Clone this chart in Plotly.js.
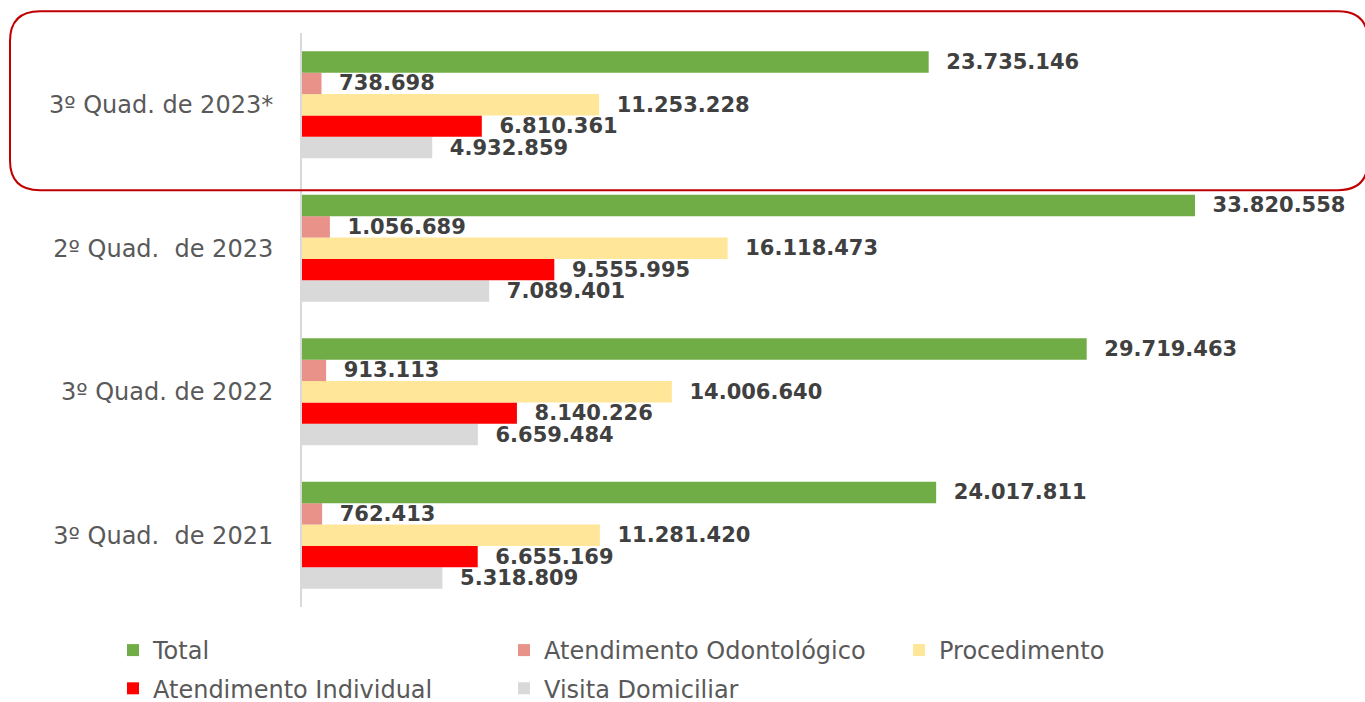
<!DOCTYPE html>
<html>
<head>
<meta charset="utf-8">
<script src="https://cdn.plot.ly/plotly-3.0.1.min.js"></script>
<style>html,body{margin:0;padding:0;background:#fff;}#chart{width:1365px;height:702px;}</style>
</head>
<body>
<div id="chart"></div>
<script>
const categories = ['3º Quad. \u00a0de 2021', '3º Quad. de 2022', '2º Quad. \u00a0de 2023', '3º Quad. de 2023*'];
const total = [24017811, 29719463, 33820558, 23735146];
const odontologico = [762413, 913113, 1056689, 738698];
const procedimento = [11281420, 14006640, 16118473, 11253228];
const individual = [6655169, 8140226, 9555995, 6810361];
const visita = [5318809, 6659484, 7089401, 4932859];

const seriesNames = ['Total', 'Atendimento Odontológico', 'Procedimento', 'Atendimento Individual', 'Visita Domiciliar'];
const seriesValues = [total, odontologico, procedimento, individual, visita];
const seriesColors = ['#70AD47', '#E8928A', '#FFE699', '#FF0000', '#D9D9D9'];
const legendColumn = ['legend', 'legend2', 'legend3', 'legend', 'legend2'];

const traces = [];
for (let i = seriesNames.length - 1; i >= 0; i--) {
  traces.push({
    type: 'bar',
    orientation: 'h',
    name: seriesNames[i],
    y: categories,
    x: seriesValues[i],
    marker: {color: seriesColors[i]},
    legend: legendColumn[i],
    legendgroup: 'g' + i,
    legendrank: i + 1,
    texttemplate: '\u00a0\u00a0%{x:,.0f}',
    textposition: 'outside',
    constraintext: 'none',
    cliponaxis: false,
    textfont: {family: 'DejaVu Sans', size: 21, color: '#404040', weight: 'bold'},
    hoverinfo: 'skip'
  });
}

const L = 302, R = 1365, T = 32.7, B = 607.3;
const px = X => ((X - L) / (R - L)).toFixed(4);
const py = Y => ((B - Y) / (B - T)).toFixed(4);
const x0 = 10, x1 = 1368, y0 = 11, y1 = 190, r = 30;
const framePath =
  'M' + px(x0 + r) + ',' + py(y0) +
  ' L' + px(x1 - r) + ',' + py(y0) +
  ' Q' + px(x1) + ',' + py(y0) + ' ' + px(x1) + ',' + py(y0 + r) +
  ' L' + px(x1) + ',' + py(y1 - r) +
  ' Q' + px(x1) + ',' + py(y1) + ' ' + px(x1 - r) + ',' + py(y1) +
  ' L' + px(x0 + r) + ',' + py(y1) +
  ' Q' + px(x0) + ',' + py(y1) + ' ' + px(x0) + ',' + py(y1 - r) +
  ' L' + px(x0) + ',' + py(y0 + r) +
  ' Q' + px(x0) + ',' + py(y0) + ' ' + px(x0 + r) + ',' + py(y0) + ' Z';

function legendAt(xPix) {
  return {
    orientation: 'v',
    xref: 'container', yref: 'container',
    x: xPix / 1365, xanchor: 'left',
    y: 1 - 628 / 702, yanchor: 'top',
    itemwidth: 30,
    traceorder: 'grouped',
    tracegroupgap: 4,
    font: {family: 'DejaVu Sans', size: 24, color: '#595959'},
    bgcolor: 'rgba(0,0,0,0)'
  };
}

const layout = {
  width: 1365,
  height: 702,
  margin: {l: L, r: 0, t: T, b: 702 - B, pad: 0, autoexpand: false},
  paper_bgcolor: '#ffffff',
  plot_bgcolor: '#ffffff',
  separators: ',.',
  barmode: 'group',
  bargap: 0.255,
  bargroupgap: 0,
  showlegend: true,
  xaxis: {
    range: [0, 40.26e6],
    showgrid: false, zeroline: false, showticklabels: false, showline: false, ticks: '', fixedrange: true
  },
  yaxis: {
    type: 'category',
    categoryorder: 'array',
    categoryarray: categories,
    showline: true, linecolor: '#D9D9D9', linewidth: 2,
    showgrid: false, zeroline: false, ticks: '',
    ticklabelstandoff: 22,
    tickfont: {family: 'DejaVu Sans', size: 24, color: '#595959'},
    fixedrange: true
  },
  legend: legendAt(113),
  legend2: legendAt(504),
  legend3: legendAt(899),
  shapes: [{
    type: 'path', xref: 'paper', yref: 'paper',
    path: framePath,
    line: {color: '#C00000', width: 2},
    fillcolor: 'rgba(0,0,0,0)',
    layer: 'above'
  }]
};

Plotly.newPlot('chart', traces, layout, {displayModeBar: false, staticPlot: true});
</script>
</body>
</html>
